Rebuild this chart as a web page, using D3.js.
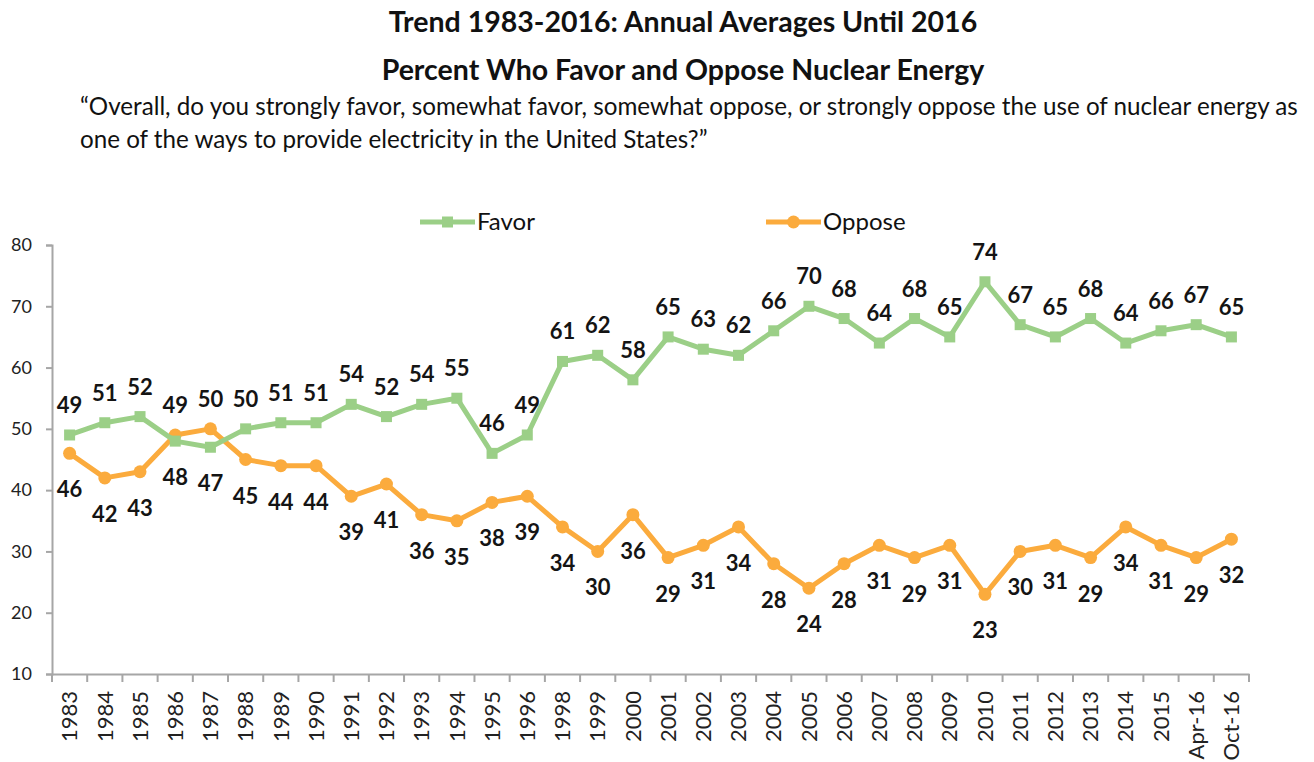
<!DOCTYPE html>
<html>
<head>
<meta charset="utf-8">
<script src="https://cdn.jsdelivr.net/npm/d3@7"></script>
<style>
  body { margin: 0; background: white; }
  text { font-family: Lato, "Open Sans", sans-serif; }
</style>
</head>
<body>
<div class="chart"></div>
<script>
const categories = ["1983","1984","1985","1986","1987","1988","1989","1990","1991","1992",
  "1993","1994","1995","1996","1998","1999","2000","2001","2002","2003","2004","2005",
  "2006","2007","2008","2009","2010","2011","2012","2013","2014","2015","Apr-16","Oct-16"]
const favor = [49,51,52,48,47,50,51,51,54,52,54,55,46,49,61,62,58,65,63,62,66,70,68,64,68,65,74,67,65,68,64,66,67,65]
const oppose = [46,42,43,49,50,45,44,44,39,41,36,35,38,39,34,30,36,29,31,34,28,24,28,31,29,31,23,30,31,29,34,31,29,32]
const yTicks = [10,20,30,40,50,60,70,80]

function drawChart() {
  const dimensions = {
    width: 1314,
    height: 762,
    margin: {
      top: 245,
      right: 65,
      bottom: 88,
      left: 52,
    },
  }
  dimensions.boundedWidth = dimensions.width
    - dimensions.margin.left
    - dimensions.margin.right
  dimensions.boundedHeight = dimensions.height
    - dimensions.margin.top
    - dimensions.margin.bottom

  const green = "#9bcf87"
  const orange = "#fbab3d"

  const wrapper = d3.select(".chart")
    .append("svg")
    .attr("width", dimensions.width)
    .attr("height", dimensions.height)

  // titles
  wrapper.append("text")
    .attr("x", 683).attr("y", 32)
    .style("text-anchor", "middle")
    .style("font-weight", "bold")
    .style("font-size", "28.5px")
    .attr("fill", "#111")
    .text("Trend 1983-2016: Annual Averages Until 2016")
  wrapper.append("text")
    .attr("x", 683).attr("y", 80)
    .style("text-anchor", "middle")
    .style("font-weight", "bold")
    .style("font-size", "28.5px")
    .attr("fill", "#111")
    .text("Percent Who Favor and Oppose Nuclear Energy")
  wrapper.append("text")
    .attr("x", 80).attr("y", 115)
    .style("font-size", "24.2px")
    .attr("fill", "#111")
    .text("\u201cOverall, do you strongly favor, somewhat favor, somewhat oppose, or strongly oppose the use of nuclear energy as")
  wrapper.append("text")
    .attr("x", 80).attr("y", 148)
    .style("font-size", "24.2px")
    .attr("fill", "#111")
    .text("one of the ways to provide electricity in the United States?\u201d")

  const bounds = wrapper.append("g")
    .style("transform", `translate(${dimensions.margin.left}px, ${dimensions.margin.top}px)`)

  const xScale = d3.scaleBand()
    .domain(categories)
    .range([0, dimensions.boundedWidth])
  const xCenter = c => xScale(c) + xScale.bandwidth() / 2

  const yScale = d3.scaleLinear()
    .domain([10, 80])
    .range([dimensions.boundedHeight, 0])

  // axes
  const yAxisGenerator = d3.axisLeft(yScale)
    .tickValues(yTicks)
    .tickSize(6)
    .tickPadding(14)
  const yAxis = bounds.append("g").call(yAxisGenerator)
  yAxis.select(".domain").attr("stroke", "#a6a6a6").attr("stroke-width", 2)
  yAxis.selectAll(".tick line").attr("stroke", "#a6a6a6").attr("stroke-width", 2)
  yAxis.selectAll(".tick text")
    .attr("fill", "#222")
    .style("font-size", "18px")
    .style("font-family", "Lato, sans-serif")

  const xAxisGenerator = d3.axisBottom(xScale)
    .tickSize(0)
    .tickPadding(0)
  const xAxis = bounds.append("g")
    .call(xAxisGenerator)
    .style("transform", `translateY(${dimensions.boundedHeight}px)`)
  xAxis.select(".domain").attr("stroke", "#a6a6a6").attr("stroke-width", 2)
  xAxis.selectAll(".tick text")
    .attr("fill", "#222")
    .style("font-size", "22px")
    .style("font-family", "Lato, sans-serif")
    .style("text-anchor", "end")
    .attr("dy", "0.35em")
    .attr("transform", "translate(0, 17) rotate(-90)")
    .attr("x", 0).attr("y", 0)

  // tick marks at band boundaries
  bounds.append("g")
    .selectAll("line")
    .data(categories.concat(["end"]))
    .enter().append("line")
    .attr("x1", (d, i) => i < categories.length ? xScale(d) : dimensions.boundedWidth)
    .attr("x2", (d, i) => i < categories.length ? xScale(d) : dimensions.boundedWidth)
    .attr("y1", dimensions.boundedHeight)
    .attr("y2", dimensions.boundedHeight + 8)
    .attr("stroke", "#a6a6a6")
    .attr("stroke-width", 2)

  const lineGenerator = d3.line()
    .x((d, i) => xCenter(categories[i]))
    .y(d => yScale(d))

  // oppose line
  bounds.append("path")
    .attr("d", lineGenerator(oppose))
    .attr("fill", "none")
    .attr("stroke", orange)
    .attr("stroke-width", 5)
    .attr("stroke-linejoin", "round")
  bounds.append("g").selectAll("circle")
    .data(oppose)
    .enter().append("circle")
    .attr("cx", (d, i) => xCenter(categories[i]))
    .attr("cy", d => yScale(d))
    .attr("r", 6.5)
    .attr("fill", orange)

  // favor line
  bounds.append("path")
    .attr("d", lineGenerator(favor))
    .attr("fill", "none")
    .attr("stroke", green)
    .attr("stroke-width", 5)
    .attr("stroke-linejoin", "round")
  bounds.append("g").selectAll("rect")
    .data(favor)
    .enter().append("rect")
    .attr("x", (d, i) => xCenter(categories[i]) - 5.5)
    .attr("y", d => yScale(d) - 5.5)
    .attr("width", 11)
    .attr("height", 11)
    .attr("fill", green)

  // data labels: above when this series is higher, below when lower
  const addLabels = (values, other) => {
    bounds.append("g").selectAll("text")
      .data(values)
      .enter().append("text")
      .attr("x", (d, i) => xCenter(categories[i]))
      .attr("y", (d, i) => d > other[i] ? yScale(d) - 22 : yScale(d) + 44)
      .style("text-anchor", "middle")
      .style("font-weight", "bold")
      .style("font-size", "22px")
      .attr("fill", "#141414")
      .text(d => d)
  }
  addLabels(favor, oppose)
  addLabels(oppose, favor)

  // legend
  const legend = wrapper.append("g")
  const legendItems = [
    { name: "Favor", color: green, x: 420, shape: "square" },
    { name: "Oppose", color: orange, x: 766, shape: "circle" },
  ]
  legendItems.forEach(item => {
    legend.append("line")
      .attr("x1", item.x).attr("x2", item.x + 55)
      .attr("y1", 222).attr("y2", 222)
      .attr("stroke", item.color)
      .attr("stroke-width", 5)
    if (item.shape === "square") {
      legend.append("rect")
        .attr("x", item.x + 22).attr("y", 216.5)
        .attr("width", 11).attr("height", 11)
        .attr("fill", item.color)
    } else {
      legend.append("circle")
        .attr("cx", item.x + 27.5).attr("cy", 222)
        .attr("r", 6.5)
        .attr("fill", item.color)
    }
    legend.append("text")
      .attr("x", item.x + 57).attr("y", 230)
      .style("font-size", "24px")
      .attr("fill", "#111")
      .text(item.name)
  })
}

drawChart()
</script>
</body>
</html>
